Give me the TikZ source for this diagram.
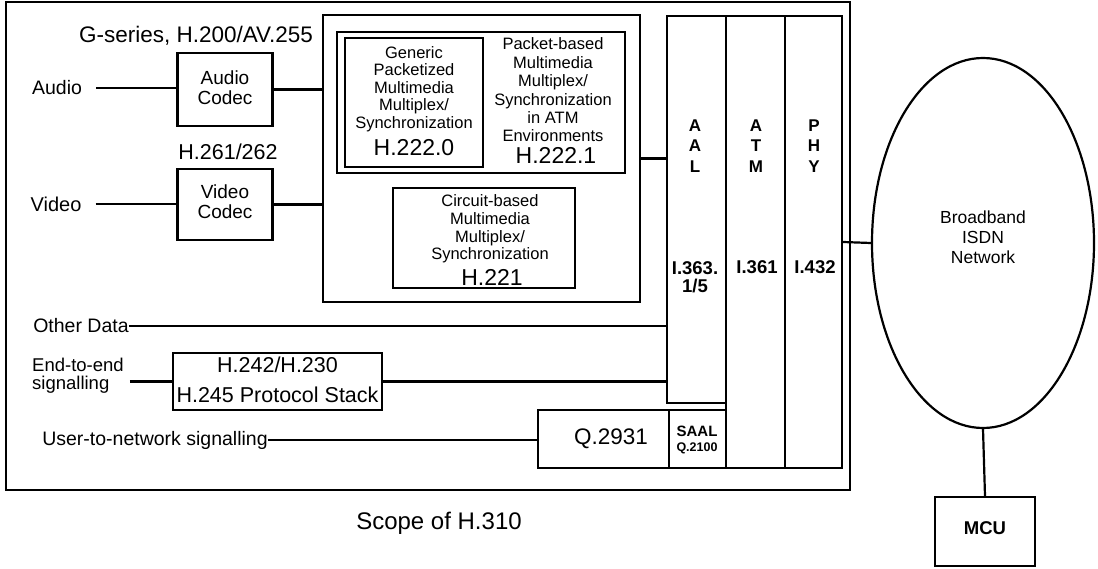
\documentclass[tikz,border=0pt]{standalone}
\usepackage{fontspec}
\setmainfont{Liberation Sans}
\usetikzlibrary{shapes.geometric}
\newcommand\fsz[2]{\fontsize{#1}{#2}\selectfont}
\begin{document}
\begin{tikzpicture}[x=1pt,y=-1pt,
  box/.style={draw, line width=2.2pt, inner sep=0pt},
  lbl/.style={inner sep=0pt, align=center},
  conn/.style={line width=2.2pt}]
\useasboundingbox (0,0) rectangle (1098,569);
% boxes
\node[box, minimum width=844, minimum height=488] (scope) at (428,246) {};
\node[box, minimum width=95, minimum height=73] (acodec) at (225,89.5) {};
\node[box, minimum width=95, minimum height=71] (vcodec) at (225,204.5) {};
\node[box, minimum width=317, minimum height=287] (mux) at (481.5,158.5) {};
\node[box, minimum width=288, minimum height=141] (h2221) at (481,102.5) {};
\node[box, minimum width=138, minimum height=129] (h2220) at (414,102.5) {};
\node[box, minimum width=182, minimum height=100] (h221) at (484,238) {};
\node[box, minimum width=59, minimum height=387] (aal) at (696.5,209.5) {};
\node[box, minimum width=59, minimum height=452] (atm) at (755.5,242) {};
\node[box, minimum width=57, minimum height=452] (phy) at (813.5,242) {};
\node[box, minimum width=131, minimum height=58] (q2931) at (603.5,439) {};
\node[box, minimum width=57, minimum height=58] (saal) at (697.5,439) {};
\node[box, minimum width=209, minimum height=57] (h242) at (277.5,381.5) {};
\node[box, minimum width=100, minimum height=69] (mcu) at (985,531.5) {};
\node[box, ellipse, minimum width=222, minimum height=370] (bisdn) at (983,243) {};
% texts
\node[lbl, font=\fsz{22.5}{24}] (gser) at (196,36) {G-series, H.200/AV.255};
\node[lbl, font=\fsz{19.5}{21}] (audio) at (57,88) {Audio};
\node[lbl, font=\fsz{20}{21}] (video) at (56,204) {Video};
\node[lbl, font=\fsz{19}{20}] (acodect) at (225,88) {Audio\\Codec};
\node[lbl, font=\fsz{21.5}{23}] (h261) at (228,152) {H.261/262};
\node[lbl, font=\fsz{19}{20}] (vcodect) at (225,202) {Video\\Codec};
\node[lbl, font=\fsz{16.5}{17.5}] (gent) at (414,89) {Generic\\Packetized\\Multimedia\\Multiplex/\\Synchronization};
\node[lbl, font=\fsz{23}{24}] (h2220t) at (414,147.5) {H.222.0};
\node[lbl, font=\fsz{16.5}{18.4}] (pkt) at (553,90) {Packet-based\\Multimedia\\Multiplex/\\Synchronization\\in ATM\\Environments};
\node[lbl, font=\fsz{23}{24}] (h2221t) at (556,155) {H.222.1};
\node[lbl, font=\fsz{16.5}{17.7}] (circ) at (490,229) {Circuit-based\\Multimedia\\Multiplex/\\Synchronization};
\node[lbl, font=\fsz{23}{24}] (h221t) at (492,277) {H.221};
\node[lbl, font=\bfseries\fsz{17}{20.5}] (aalt) at (695,146) {A\\A\\L};
\node[lbl, font=\bfseries\fsz{17}{20.5}] (atmt) at (756,146) {A\\T\\M};
\node[lbl, font=\bfseries\fsz{17}{20.5}] (phyt) at (814,146) {P\\H\\Y};
\node[lbl, font=\bfseries\fsz{18.5}{18}] (aalr) at (695,277) {I.363.\\1/5};
\node[lbl, font=\bfseries\fsz{18.5}{18}] (atmr) at (757,267) {I.361};
\node[lbl, font=\bfseries\fsz{18.5}{18}] (phyr) at (815,267) {I.432};
\node[lbl, font=\fsz{19.5}{21}] (other) at (81,326) {Other Data};
\node[lbl, align=left, anchor=west, font=\fsz{18.5}{18}] (e2e) at (32,376) {End-to-end\\signalling};
\node[lbl, font=\fsz{21.5}{30}] (h242t) at (277.5,380) {H.242/H.230\\H.245 Protocol Stack};
\node[lbl, font=\fsz{19.5}{21}] (u2n) at (155,440) {User-to-network signalling};
\node[lbl, font=\fsz{22.5}{24}] (q2931t) at (611,439) {Q.2931};
\node[lbl, font=\bfseries\fsz{15}{16}] (saalt) at (697,431) {SAAL};
\node[lbl, font=\bfseries\fsz{12.5}{13}] (q2100t) at (697,448) {Q.2100};
\node[lbl, font=\fsz{17.5}{20}] (bisdnt) at (983,237) {Broadband\\ISDN\\Network};
\node[lbl, font=\bfseries\fsz{18.5}{19}] (mcut) at (985,528) {MCU};
\node[lbl, font=\fsz{24}{26}] (scopet) at (439,523) {Scope of H.310};
% connectors
\draw[conn] ([xshift=14pt]audio.east) -- (audio.east -| acodec.west);
\draw[conn] (acodec.east) -- (acodec.east -| mux.west);
\draw[conn] ([xshift=14pt]video.east) -- (video.east -| vcodec.west);
\draw[conn] (vcodec.east) -- (vcodec.east -| mux.west);
\draw[conn] (mux.east) -- (mux.east -| aal.west);
\draw[conn] (other.east) -- (other.east -| aal.west);
\draw[conn] ([xshift=6pt]h242.west -| e2e.east) -- (h242.west);
\draw[conn] (h242.east) -- (h242.east -| aal.west);
\draw[conn] (u2n.east) -- (u2n.east -| q2931.west);
\draw[conn] (phy.east) -- (bisdn.west);
\draw[conn] (bisdn.south) -- (mcu.north);
\end{tikzpicture}
\end{document}
